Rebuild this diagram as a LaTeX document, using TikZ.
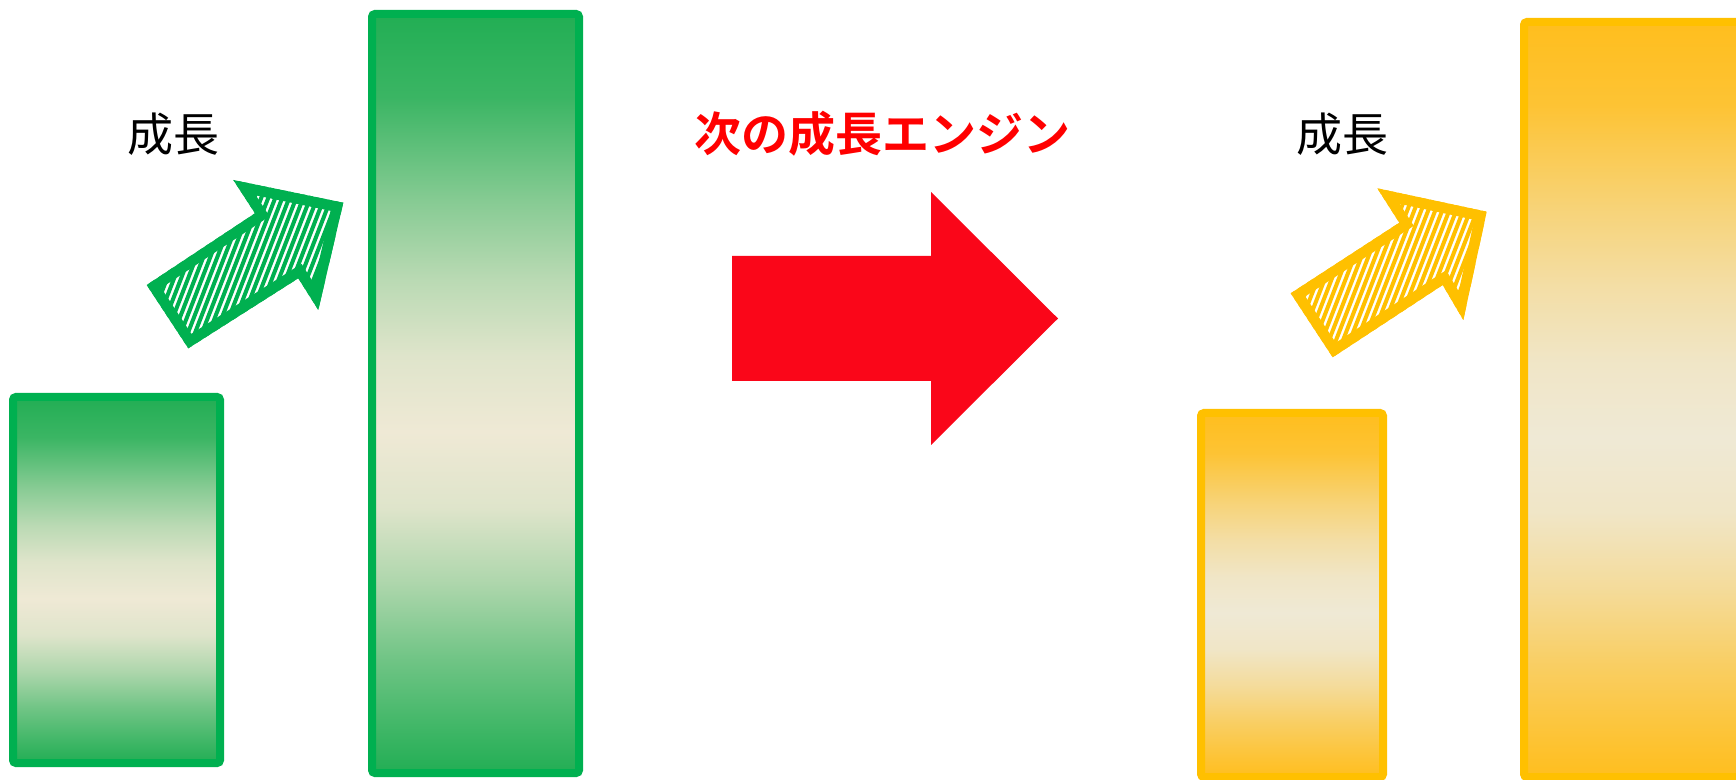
\documentclass[tikz,border=0pt]{standalone}
\usepackage{fontspec}
\newfontfamily\jp{Noto Sans CJK JP}[BoldFont={Noto Sans CJK JP Bold}]
\definecolor{gborder}{RGB}{0,176,80}
\definecolor{gfill}{RGB}{34,174,84}
\definecolor{cream}{RGB}{239,233,213}
\definecolor{yborder}{RGB}{255,192,0}
\definecolor{yfill}{RGB}{255,190,30}
\definecolor{redarrow}{RGB}{250,6,25}
\definecolor{redtext}{RGB}{255,0,0}
% green profile
\colorlet{ga}{cream!12!gfill}
\colorlet{gb}{cream!50!gfill}
\colorlet{gc}{cream!74!gfill}
\colorlet{gd}{cream!92!gfill}
\colorlet{ge}{cream!92!gfill}
\colorlet{gf}{cream!68!gfill}
\colorlet{gg}{cream!38!gfill}
\colorlet{gh}{cream!12!gfill}
% yellow profile
\colorlet{ya}{cream!12!yfill}
\colorlet{yb}{cream!50!yfill}
\colorlet{yc}{cream!74!yfill}
\colorlet{yd}{cream!92!yfill}
\colorlet{ye}{cream!92!yfill}
\colorlet{yf}{cream!68!yfill}
\colorlet{yg}{cream!38!yfill}
\colorlet{yh}{cream!12!yfill}
\pgfdeclareverticalshading{greenbar}{100bp}{color(0bp)=(gfill); color(25bp)=(gfill); color(27.5bp)=(gh); color(32.5bp)=(gg); color(37.5bp)=(gf); color(42.5bp)=(ge); color(47.5bp)=(cream); color(52.5bp)=(gd); color(57.5bp)=(gc); color(62.5bp)=(gb); color(69.5bp)=(ga); color(75bp)=(gfill); color(100bp)=(gfill)}
\pgfdeclareverticalshading{yellowbar}{100bp}{color(0bp)=(yfill); color(25bp)=(yfill); color(27.5bp)=(yh); color(32.5bp)=(yg); color(37.5bp)=(yf); color(42.5bp)=(ye); color(47.5bp)=(cream); color(52.5bp)=(yd); color(57.5bp)=(yc); color(62.5bp)=(yb); color(69.5bp)=(ya); color(75bp)=(yfill); color(100bp)=(yfill)}
\def\garrowpath{(146.7,285) -- (255,213.3) -- (233.3,180) -- (343.3,202.7) -- (318.3,310) -- (298.3,278.3) -- (188.3,348.3) -- cycle}
\def\yarrowpath{(1290.7,293.3) -- (1399.3,222.7) -- (1377.3,188.3) -- (1486.7,211.7) -- (1463.3,320) -- (1442.7,285) -- (1332.7,357.3) -- cycle}
\begin{document}
\begin{tikzpicture}[x=0.5pt,y=-0.5pt,
  gbar/.style={draw=gborder, line width=4pt, rounded corners=1.5pt, shading=greenbar},
  ybar/.style={draw=yborder, line width=4pt, rounded corners=1.5pt, shading=yellowbar},
  growthtext/.style={font=\jp\fontsize{23pt}{23pt}\selectfont, inner sep=0pt},
  titletext/.style={font=\jp\bfseries\fontsize{23.5pt}{23.5pt}\selectfont, text=redtext, inner sep=0pt},
  hatchg/.style={draw=gborder, line width=2pt},
  hatchy/.style={draw=yborder, line width=2pt},
]
\useasboundingbox (0,0) rectangle (1736,780);
% bars
\path[gbar] (13,397) rectangle (220,763);
\path[gbar] (372,14) rectangle (579,773);
\begin{scope}
  \clip (0,0) rectangle (1736,780);
  \path[ybar] (1201,413) rectangle (1383,777);
  \path[ybar] (1524,22) rectangle (1770,777);
\end{scope}
% green arrow
\begin{scope}
  \clip \garrowpath;
  \fill[white] (100,150) rectangle (380,380);
  \foreach \x in {40,47,...,470} \draw[hatchg] (\x-60,400) -- (\x+60,90);
  \draw[gborder, line width=10.5pt, line join=miter] \garrowpath;
\end{scope}
% yellow arrow
\begin{scope}
  \clip \yarrowpath;
  \fill[white] (1250,150) rectangle (1520,390);
  \foreach \x in {1180,1187,...,1620} \draw[hatchy] (\x-60,410) -- (\x+60,100);
  \draw[yborder, line width=10.5pt, line join=miter] \yarrowpath;
\end{scope}
% red arrow
\fill[redarrow] (732,256) -- (931,256) -- (931,192) -- (1058,318.5) -- (931,445) -- (931,381) -- (732,381) -- cycle;
% texts
\node[growthtext] (g1) at (173,134) {成長};
\node[growthtext] (g2) at (1342,134) {成長};
\node[titletext] (title) at (882,134) {次の成長エンジン};
\end{tikzpicture}
\end{document}
